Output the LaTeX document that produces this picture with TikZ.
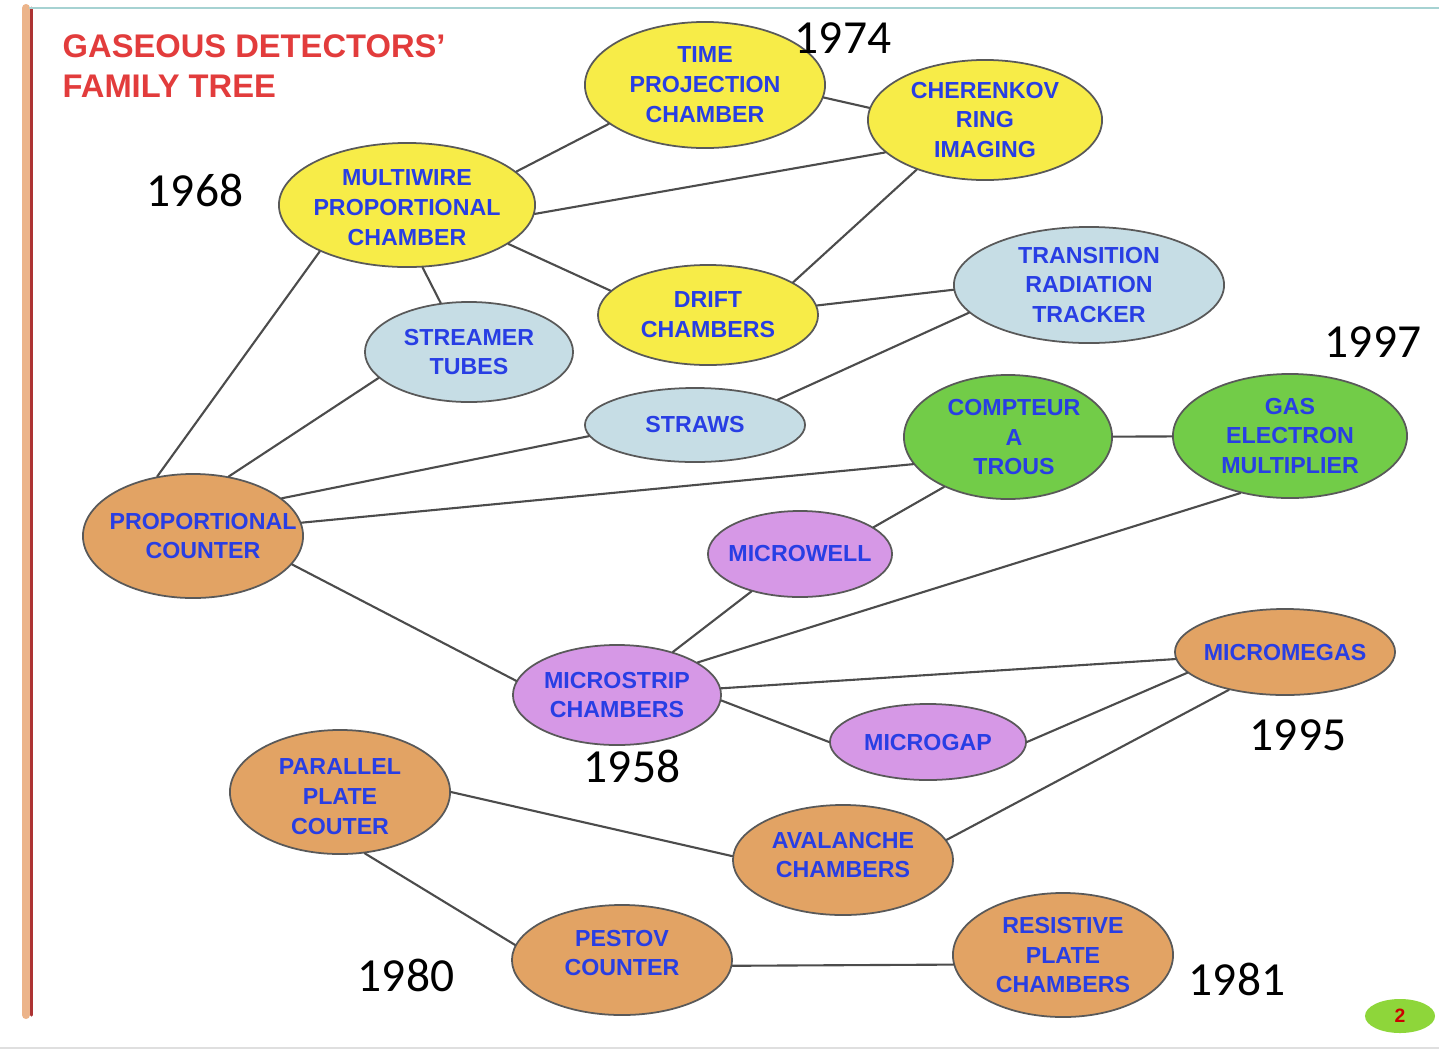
\documentclass[tikz,border=0pt]{standalone}
\usepackage{fontspec}
\setmainfont{Liberation Sans}
\newfontfamily\yearfont{Carlito}
\usetikzlibrary{shapes.geometric}
\definecolor{yel}{RGB}{247,236,72}
\definecolor{lblue}{RGB}{198,221,229}
\definecolor{lgreen}{RGB}{114,204,72}
\definecolor{tan}{RGB}{226,163,100}
\definecolor{viol}{RGB}{214,152,230}
\definecolor{nblue}{RGB}{40,62,228}
\definecolor{tred}{RGB}{226,60,60}
\definecolor{bar}{RGB}{236,180,138}
\begin{document}
\begin{tikzpicture}[x=.01cm,y=-.01cm,line join=round,line cap=round,
		blob/.style={ellipse,draw=black!65,line width=.5pt,inner sep=0pt},
		txt/.style={text=nblue,inner sep=0pt,align=center,font=\bfseries\fontsize{6.6}{8.5}\selectfont},
		yr/.style={inner sep=0pt,font=\yearfont\fontsize{13.5}{14}\selectfont},
		wire/.style={draw=black!70,line width=.6pt}]
	\useasboundingbox (0,0) rectangle (1439,1051);
	% frame of the slide
	\draw[bar,line width=2.3pt] (26,8) -- (26,1015);
	\draw[red!60!black!80,line width=.85pt] (31.5,8) -- (31.5,1015);
	\draw[teal!35,line width=.6pt] (30,8) -- (1439,8);
	\draw[gray!25,line width=.6pt] (0,1048) -- (1439,1048);
	\node[anchor=north west,inner sep=0pt,align=left,text=tred,font=\bfseries\fontsize{9.3}{11.3}\selectfont] (T) at (62,34) {GASEOUS DETECTORS’\\FAMILY TREE};
	% yellow
	\node[blob,fill=yel,minimum width=2.4cm,minimum height=1.26cm,label={[txt]center:TIME\\PROJECTION\\CHAMBER}] (TPC) at (705,85) {};
	\node[blob,fill=yel,minimum width=2.34cm,minimum height=1.2cm,label={[txt]center:CHERENKOV\\RING\\IMAGING}] (CRI) at (985,120) {};
	\node[blob,fill=yel,minimum width=2.56cm,minimum height=1.24cm,label={[txt,yshift=-.03cm]center:MULTIWIRE\\PROPORTIONAL\\CHAMBER}] (MWPC) at (407,205) {};
	\node[blob,fill=yel,minimum width=2.2cm,minimum height=1cm,label={[txt]center:DRIFT\\CHAMBERS}] (DC) at (708,315) {};
	% light blue
	\node[blob,fill=lblue,minimum width=2.7cm,minimum height=1.16cm,label={[txt]center:TRANSITION\\RADIATION\\TRACKER}] (TRT) at (1089,285) {};
	\node[blob,fill=lblue,minimum width=2.08cm,minimum height=1cm,label={[txt]center:STREAMER\\TUBES}] (ST) at (469,352) {};
	\node[blob,fill=lblue,minimum width=2.2cm,minimum height=.74cm,label={[txt]center:STRAWS}] (SW) at (695,425) {};
	% green
	\node[blob,fill=lgreen,minimum width=2.08cm,minimum height=1.24cm,label={[txt,xshift=.06cm]center:COMPTEUR\\A\\TROUS}] (CAT) at (1008,437) {};
	\node[blob,fill=lgreen,minimum width=2.34cm,minimum height=1.24cm,label={[txt]center:GAS\\ELECTRON\\MULTIPLIER}] (GEM) at (1290,436) {};
	% violet
	\node[blob,fill=viol,minimum width=1.84cm,minimum height=.86cm,label={[txt]center:MICROWELL}] (MW) at (800,554) {};
	\node[blob,fill=viol,minimum width=2.08cm,minimum height=1cm,label={[txt]center:MICROSTRIP\\CHAMBERS}] (MS) at (617,695) {};
	\node[blob,fill=viol,minimum width=1.96cm,minimum height=.76cm,label={[txt]center:MICROGAP}] (MG) at (928,742) {};
	% tan
	\node[blob,fill=tan,minimum width=2.2cm,minimum height=1.24cm,label={[txt,xshift=.1cm]center:PROPORTIONAL\\COUNTER}] (PC) at (193,536) {};
	\node[blob,fill=tan,minimum width=2.2cm,minimum height=.86cm,label={[txt]center:MICROMEGAS}] (MM) at (1285,652) {};
	\node[blob,fill=tan,minimum width=2.2cm,minimum height=1.24cm,label={[txt,yshift=-.05cm]center:PARALLEL\\PLATE\\COUTER}] (PPC) at (340,792) {};
	\node[blob,fill=tan,minimum width=2.2cm,minimum height=1.1cm,label={[txt,yshift=.05cm]center:AVALANCHE\\CHAMBERS}] (AC) at (843,860) {};
	\node[blob,fill=tan,minimum width=2.2cm,minimum height=1.1cm,label={[txt,yshift=.07cm]center:PESTOV\\COUNTER}] (PSC) at (622,960) {};
	\node[blob,fill=tan,minimum width=2.2cm,minimum height=1.24cm,label={[txt]center:RESISTIVE\\PLATE\\CHAMBERS}] (RPC) at (1063,955) {};
	% links
	\foreach \a/\b in {TPC.202/MWPC.17,TPC.354/CRI.174,CRI.198/MWPC.356,CRI.216/DC.21,MWPC.339/DC.166,
			MWPC.284/ST.120,MWPC.208/PC.121,DC.5/TRT.182,TRT.193/SW.17,ST.196/PC.59,SW.186/PC.23,
			CAT.196/PC.7,CAT/GEM,CAT.218/MW.20,MW/MS,GEM.229/MS.22,PC.344/MS.172,MS/MM,
			MS.357/MG.180,MG.0/MM.192,AC.11/MM.214,PPC.0/AC.178,PPC.292/PSC.172,PSC.357/RPC.185}
		\draw[wire] (\a) -- (\b);
	% years
	\node[yr] (Y74) at (843,38) {1974};
	\node[yr] (Y68) at (195,190) {1968};
	\node[yr] (Y97) at (1373,342) {1997};
	\node[yr] (Y95) at (1298,735) {1995};
	\node[yr] (Y58) at (632,766) {1958};
	\node[yr] (Y80) at (406,975) {1980};
	\node[yr] (Y81) at (1237,979) {1981};
	% page badge
	\node[ellipse,fill=lgreen!80!yellow,minimum width=.7cm,minimum height=.34cm,inner sep=0pt,label={[text=red!80!black,font=\bfseries\fontsize{5.5}{6}\selectfont]center:2}] (P) at (1400,1016) {};
\end{tikzpicture}
\end{document}
